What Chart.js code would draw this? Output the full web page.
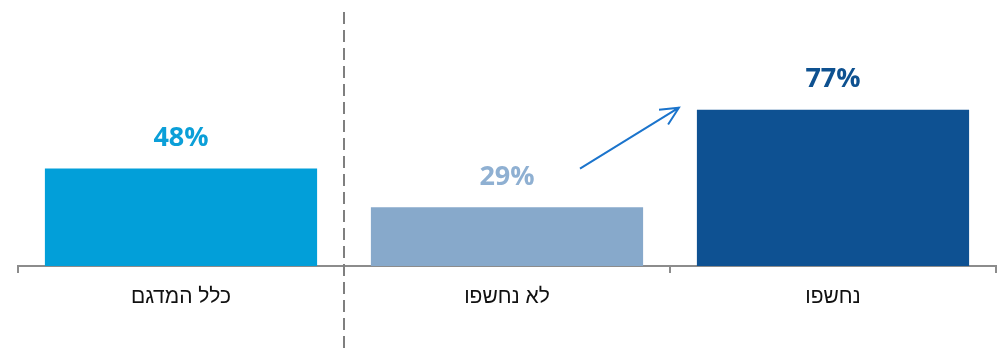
<!DOCTYPE html>
<html>
<head>
<meta charset="utf-8">
<script src="https://cdn.jsdelivr.net/npm/chart.js@4"></script>
<style>
    html, body { margin: 0; padding: 0; background: #fff; }
    #wrap { width: 1000px; height: 354px; position: relative; }
</style>
</head>
<body>
<div id="wrap"><canvas id="chart" dir="rtl" width="1000" height="354"></canvas></div>
<script>
    // data
    const categories = ["כלל המדגם", "לא נחשפו", "נחשפו"];
    const values = [48, 29, 77];
    const barColors = ["#029fd9", "#87a9cb", "#0e5192"];
    const labelColors = ["#0b9fd8", "#8fb0d2", "#0e5190"];

    // labels over bars + dashed divider + arrow
    const extras = {
        id: "extras",
        afterDatasetsDraw(chart) {
            const ctx = chart.ctx;
            const x = chart.scales.x;
            const y = chart.scales.y;
            const bars = chart.getDatasetMeta(0).data;

            ctx.save();
            ctx.direction = "ltr";
            ctx.font = "bold 27px 'Open Sans', 'DejaVu Sans', sans-serif";
            ctx.textAlign = "center";
            ctx.textBaseline = "middle";
            bars.forEach((bar, i) => {
                ctx.fillStyle = labelColors[i];
                ctx.fillText(values[i] + "%", bar.x, bar.y - 30);
            });

            // dashed separator between first and second category
            const sep = (x.getPixelForValue(0) + x.getPixelForValue(1)) / 2;
            ctx.strokeStyle = "#7f7f7f";
            ctx.lineWidth = 2;
            ctx.setLineDash([12, 6]);
            ctx.beginPath();
            ctx.moveTo(sep, 12);
            ctx.lineTo(sep, chart.height);
            ctx.stroke();
            ctx.setLineDash([]);

            // arrow from second bar toward third
            const b2 = bars[1], b3 = bars[2];
            const x0 = b2.x + 73, y0 = y.getPixelForValue(values[0]);
            const x1 = b3.x - b3.width / 2 - 18, y1 = y.getPixelForValue(values[2]) - 2;
            const ang = Math.atan2(y1 - y0, x1 - x0);
            ctx.strokeStyle = "#1b74cc";
            ctx.lineWidth = 2;
            ctx.beginPath();
            ctx.moveTo(x0, y0);
            ctx.lineTo(x1, y1);
            ctx.moveTo(x1 - 20 * Math.cos(ang - 0.45), y1 - 20 * Math.sin(ang - 0.45));
            ctx.lineTo(x1, y1);
            ctx.lineTo(x1 - 20 * Math.cos(ang + 0.45), y1 - 20 * Math.sin(ang + 0.45));
            ctx.stroke();
            ctx.restore();
        },
    };

    new Chart(document.getElementById("chart"), {
        type: "bar",
        data: {
            labels: categories,
            datasets: [
                {
                    data: values,
                    backgroundColor: barColors,
                    categoryPercentage: 1,
                    barPercentage: 0.835,
                },
            ],
        },
        options: {
            responsive: false,
            animation: false,
            layout: { padding: { left: 18, right: 4, top: 63 } },
            plugins: {
                legend: { display: false },
                tooltip: { enabled: false },
            },
            scales: {
                y: {
                    display: false,
                    min: 0,
                    max: 100,
                },
                x: {
                    afterFit(scale) {
                        scale.height = 88;
                    },
                    grid: {
                        drawOnChartArea: false,
                        color: "#8c8c8c",
                        lineWidth: 2,
                        tickLength: 7,
                    },
                    border: { color: "#8c8c8c", width: 2 },
                    ticks: {
                        color: "#111",
                        padding: 12,
                        font: { size: 21, family: "'Liberation Sans', 'DejaVu Sans', sans-serif" },
                    },
                },
            },
        },
        plugins: [extras],
    });
</script>
</body>
</html>
